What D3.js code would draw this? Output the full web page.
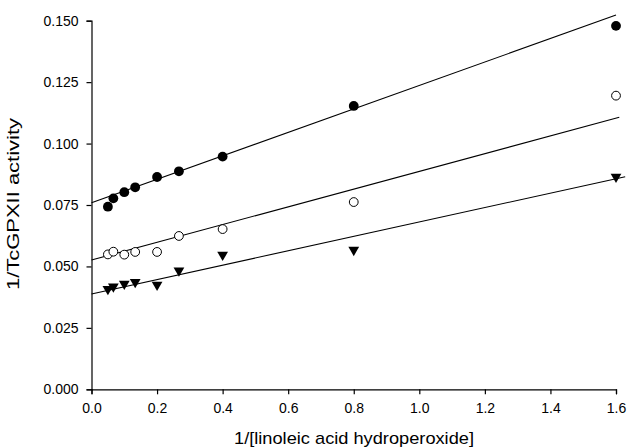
<!DOCTYPE html>
<html>
<head>
<meta charset="utf-8">
<script src="https://cdn.jsdelivr.net/npm/d3@7"></script>
<style>
  html, body { margin: 0; padding: 0; background: #fff; }
  svg { display: block; }
  text { font-family: Arial, "Liberation Sans", sans-serif; fill: #000; }
</style>
</head>
<body>
<svg id="chart" width="628" height="447"></svg>
<script>
// ---- data ----
const xValues = [0.05, 0.0667, 0.1, 0.1333, 0.2, 0.2667, 0.4, 0.8, 1.6];
const filledCircles = [0.0743, 0.0777, 0.0802, 0.0822, 0.0864, 0.0887, 0.0947, 0.1153, 0.1479];
const openCircles = [0.0549, 0.0560, 0.0548, 0.0559, 0.0559, 0.0624, 0.0652, 0.0762, 0.1195];
const triangles = [0.0408, 0.0418, 0.0429, 0.0436, 0.0425, 0.0483, 0.0547, 0.0567, 0.0865];
// regression lines: [x, y] endpoints in data units
const fitFilled = [[0, 0.0759], [1.6, 0.1523]];
const fitOpen = [[0, 0.0526], [1.61, 0.1107]];
const fitTriangle = [[0, 0.0388], [1.628, 0.0865]];
const xTicks = [0, 0.2, 0.4, 0.6, 0.8, 1.0, 1.2, 1.4, 1.6];
const yTicks = [0, 0.025, 0.05, 0.075, 0.1, 0.125, 0.15];
const xTitle = "1/[linoleic acid hydroperoxide]";
const yTitle = "1/TcGPXII activity";

// ---- layout ----
const svg = d3.select("#chart");
const mLeft = 91.5, mRight = 616, mTop = 20.7, mBottom = 389.3;
const x = d3.scaleLinear().domain([0, 1.6]).range([mLeft, mRight]);
const y = d3.scaleLinear().domain([0, 0.15]).range([mBottom, mTop]);

const xAxis = d3.axisBottom(x).tickValues(xTicks).tickFormat(d3.format(".1f")).tickSizeOuter(0).tickSize(5).tickPadding(9);
const yAxis = d3.axisLeft(y).tickValues(yTicks).tickFormat(d3.format(".3f")).tickSizeOuter(0).tickSize(5).tickPadding(8);

const gx = svg.append("g").attr("transform", `translate(0,${mBottom})`).call(xAxis);
const gy = svg.append("g").attr("transform", `translate(${mLeft},0)`).call(yAxis);
[gx, gy].forEach(g => {
  g.selectAll("path.domain").attr("stroke", "#000").attr("stroke-width", 1.2);
  g.selectAll(".tick line").attr("stroke", "#000").attr("stroke-width", 1.2);
  g.selectAll(".tick text").attr("font-size", 14).attr("font-family", "Arial, 'Liberation Sans', sans-serif").attr("fill", "#000");
});

// regression lines
const line = d3.line().x(d => x(d[0])).y(d => y(d[1]));
[fitFilled, fitOpen, fitTriangle].forEach(f => {
  svg.append("path").attr("d", line(f)).attr("fill", "none").attr("stroke", "#000").attr("stroke-width", 1.1);
});

// markers
const pts = (vals) => xValues.map((xv, i) => [xv, vals[i]]);
svg.append("g").selectAll("circle").data(pts(filledCircles)).join("circle")
  .attr("cx", d => x(d[0])).attr("cy", d => y(d[1])).attr("r", 4.9).attr("fill", "#000");
svg.append("g").selectAll("circle").data(pts(openCircles)).join("circle")
  .attr("cx", d => x(d[0])).attr("cy", d => y(d[1])).attr("r", 4.4)
  .attr("fill", "#fff").attr("stroke", "#000").attr("stroke-width", 1);
const tri = d3.symbol().type(d3.symbolTriangle).size(50);
svg.append("g").selectAll("path").data(pts(triangles)).join("path")
  .attr("d", tri)
  .attr("transform", d => `translate(${x(d[0])},${y(d[1])}) rotate(180)`)
  .attr("fill", "#000");

// axis titles
svg.append("text").attr("x", 354).attr("y", 444)
  .attr("text-anchor", "middle").attr("font-size", 17)
  .attr("textLength", 240).attr("lengthAdjust", "spacingAndGlyphs").text(xTitle);
svg.append("text").attr("transform", `translate(19,${204}) rotate(-90)`)
  .attr("text-anchor", "middle").attr("font-size", 17)
  .attr("textLength", 172).attr("lengthAdjust", "spacingAndGlyphs").text(yTitle);
</script>
</body>
</html>
